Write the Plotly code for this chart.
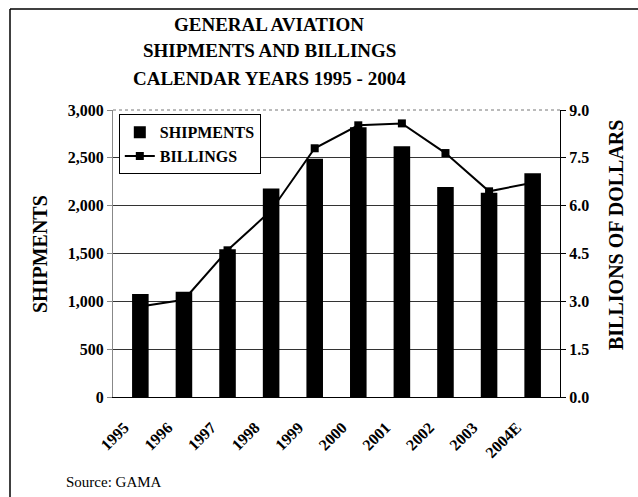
import plotly.graph_objects as go

years = ["1995", "1996", "1997", "1998", "1999", "2000", "2001", "2002", "2003", "2004E"]
shipments = [1077, 1100, 1545, 2180, 2490, 2820, 2620, 2195, 2135, 2340]
billings = [2.84, 3.05, 4.60, 5.85, 7.80, 8.52, 8.58, 7.65, 6.45, 6.72]

left_ticks = [0, 500, 1000, 1500, 2000, 2500, 3000]
right_ticks = [0.0, 1.5, 3.0, 4.5, 6.0, 7.5, 9.0]

FONT = "Liberation Serif"
W, H = 638, 497
L, R, T, B = 113, 560, 110, 397

fig = go.Figure()

# Billings line sits on the base y axis so the bars (overlay axis) cover it
fig.add_trace(go.Scatter(
    x=years, y=billings, name="BILLINGS", yaxis="y",
    mode="lines+markers",
    line=dict(color="black", width=2),
    marker=dict(symbol="square", size=8, color="black"),
    legendrank=2,
))
fig.add_trace(go.Bar(
    x=years, y=shipments, name="SHIPMENTS", yaxis="y2",
    marker=dict(color="black", line=dict(width=0)),
    legendrank=1,
))

fig.update_layout(
    width=W, height=H,
    margin=dict(l=L, r=W - R, t=T, b=H - B),
    paper_bgcolor="white", plot_bgcolor="white",
    font=dict(family=FONT, color="black"),
    bargap=0.62,
    showlegend=True,
    legend=dict(
        x=0.013, y=0.985, xanchor="left", yanchor="top",
        bgcolor="white", bordercolor="black", borderwidth=1,
        font=dict(family=FONT, size=16, color="black", weight="bold"),
        tracegroupgap=0, itemwidth=30,
    ),
    xaxis=dict(
        type="category", tickangle=-45,
        tickfont=dict(family=FONT, size=16, color="black", weight="bold"),
        ticklabelstandoff=14, ticklabelshift=-16,
        showline=True, linecolor="black", linewidth=1,
        showgrid=False, ticks="", mirror=False,
    ),
    yaxis=dict(
        side="right", range=[0, 9], tickvals=right_ticks, tickformat=".1f",
        tickfont=dict(family=FONT, size=16, color="black", weight="bold"),
        showline=True, linecolor="black", linewidth=1,
        ticks="outside", ticklen=5, tickcolor="black",
        showgrid=True, gridcolor="#333333", gridwidth=1,
        zeroline=False,
    ),
    yaxis2=dict(
        side="left", overlaying="y", range=[0, 3000], tickvals=left_ticks,
        tickformat=",",
        tickfont=dict(family=FONT, size=16, color="black", weight="bold"),
        showline=True, linecolor="#888888", linewidth=1,
        ticks="outside", ticklen=5, tickcolor="#888888",
        showgrid=False, zeroline=False,
    ),
)

def px_x(p):
    return (p - L) / (R - L)

def px_y(p):
    return (B - p) / (B - T)

# title lines
for text, yc in [("GENERAL AVIATION", 24), ("SHIPMENTS AND BILLINGS", 51),
                 ("CALENDAR YEARS 1995 - 2004", 78)]:
    fig.add_annotation(
        text=text, xref="paper", yref="paper", x=px_x(269), y=px_y(yc),
        xanchor="center", yanchor="middle", showarrow=False,
        font=dict(family=FONT, size=19, color="black", weight="bold"),
    )

# axis titles
fig.add_annotation(
    text="SHIPMENTS", xref="paper", yref="paper", x=px_x(40), y=px_y(254),
    xanchor="center", yanchor="middle", showarrow=False, textangle=-90,
    font=dict(family=FONT, size=20, color="black", weight="bold"),
)
fig.add_annotation(
    text="BILLIONS OF DOLLARS", xref="paper", yref="paper", x=px_x(616), y=px_y(235),
    xanchor="center", yanchor="middle", showarrow=False, textangle=-90,
    font=dict(family=FONT, size=20, color="black", weight="bold"),
)
fig.add_annotation(
    text="Source: GAMA", xref="paper", yref="paper", x=px_x(64), y=px_y(482),
    xanchor="left", yanchor="middle", showarrow=False,
    font=dict(family=FONT, size=15, color="black"),
)

# top edge of plot area and the outer frame
fig.add_shape(type="line", xref="paper", yref="paper", x0=0, x1=1, y0=1, y1=1,
              line=dict(color="#777777", width=1, dash="dot"))
fig.add_shape(type="line", xref="paper", yref="paper",
              x0=px_x(10), x1=px_x(W + 5), y0=px_y(9), y1=px_y(9),
              line=dict(color="black", width=1.5))
fig.add_shape(type="line", xref="paper", yref="paper",
              x0=px_x(10), x1=px_x(10), y0=px_y(9), y1=px_y(H + 5),
              line=dict(color="black", width=1.5))

fig.write_html("out.html")
